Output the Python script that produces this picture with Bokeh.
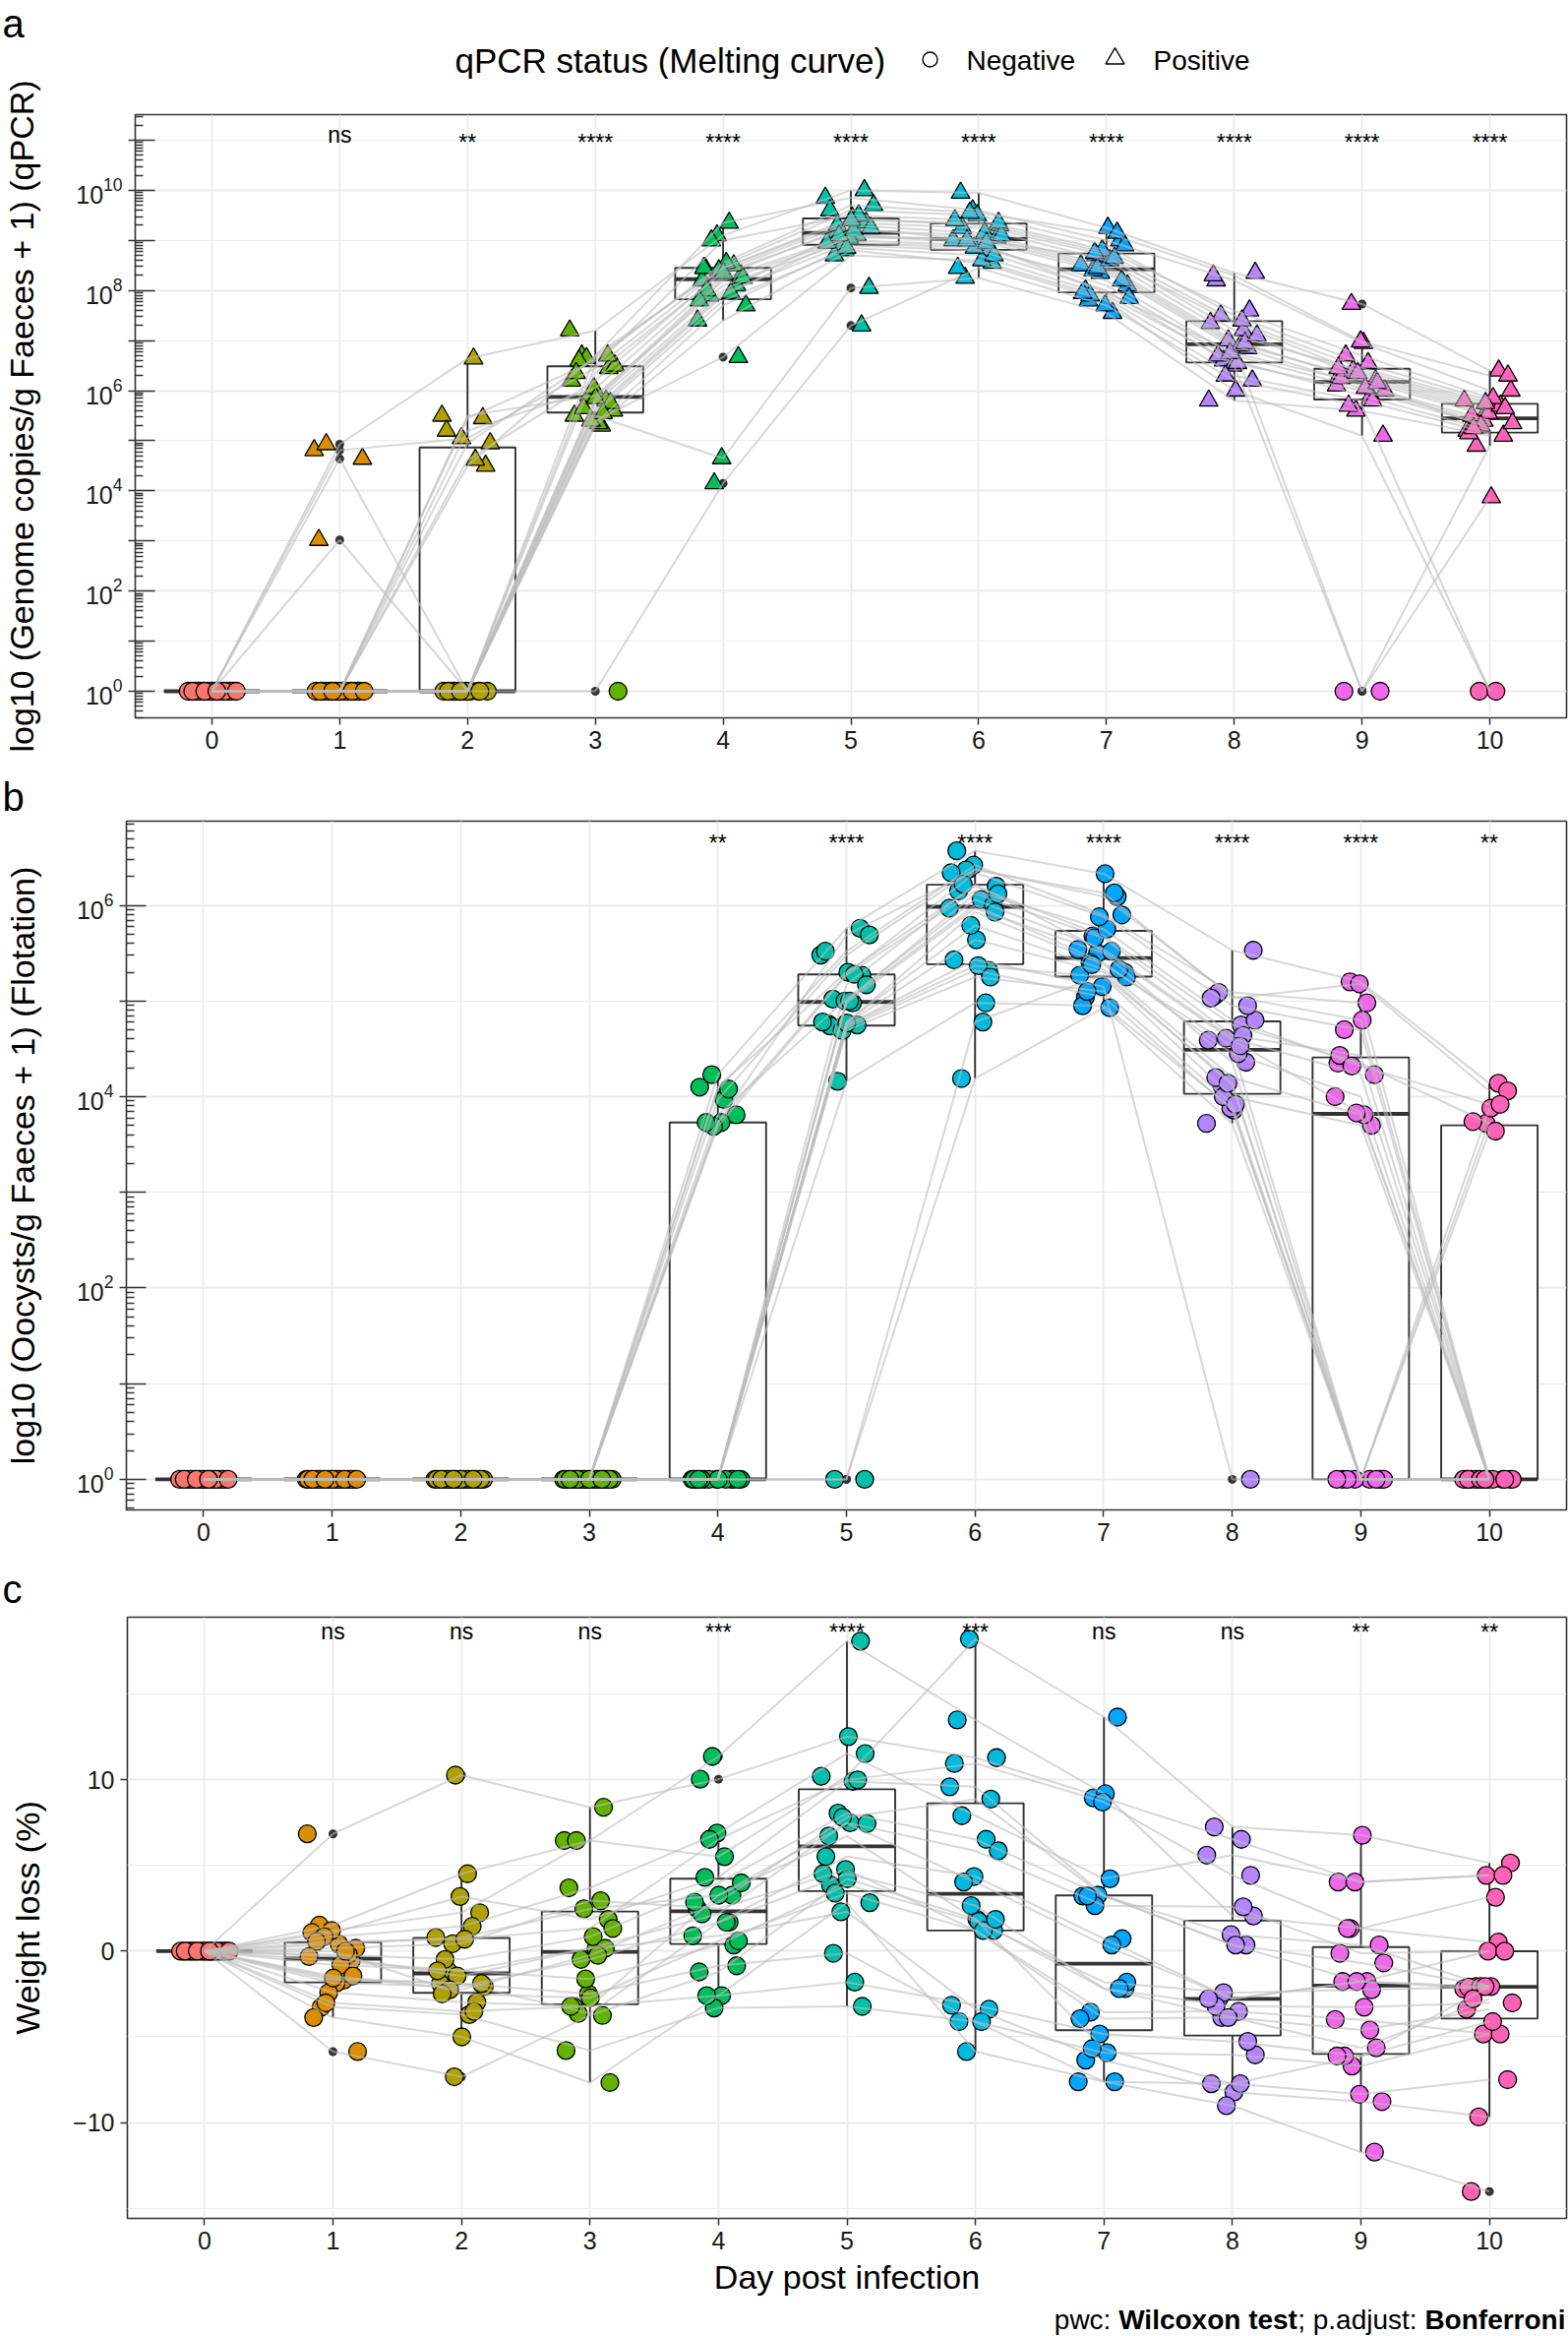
import numpy as np
from bokeh.plotting import figure
from bokeh.models import Range1d, FixedTicker, ColumnDataSource
from bokeh.layouts import column
from bokeh.core.properties import value
from bokeh.embed import file_html
from bokeh.resources import INLINE

FONT = "Liberation Sans"
DAYS = [0, 1, 2, 3, 4, 5, 6, 7, 8, 9, 10]
DAY_COLORS = ["#F8766D", "#DB8E00", "#AEA200", "#64B200", "#00BD5C", "#00C1A7",
              "#00BADE", "#00A6FF", "#B385FF", "#EF67EB", "#FF63B6"]

# ---------------- panel a: log10(genome copies / g faeces + 1), one entry per mouse ----------------
qpcr_d0 = [0, 0, 0, 0, 0, 0, 0, 0, 0, 0, 0, 0, 0, 0, 0, 0, 0, 0, 0, 0, 0, 0]
qpcr_d1 = [4.81, 0, 4.93, 0, 0, 3.02, 0, 0, 4.64, 0, 0, 0, 0, 0, 0, 0, 0, 0, 0, 0, 0, 0]
qpcr_d2 = [5.05, 5.5, 6.64, 0, 4.5, 0, 5.2, 0, 0, 4.95, 0, 0, 5.45, 0, 0, 4.62, 0, 0, 0, 0, 0, 0]
qpcr_d3 = [6.45, 5.9, 7.2, 5.3, 6.7, 5.6, 6.05, 5.5, 5.8, 6.65, 0, 5.35, 6.6, 5.75, 5.4, 6.2, 5.55, 5.65, 6.5, 5.85, 6.35, 6.7]
qpcr_d4 = [8.45, 8.1, 9.1, 7.4, 9.35, 7.9, 8.3, 4.65, 8.2, 8.5, 4.15, 7.7, 8.55, 8.0, 6.67, 8.4, 7.8, 7.95, 9.0, 8.25, 8.35, 8.45]
qpcr_d5 = [9.45, 9.0, 10.0, 8.8, 9.85, 9.1, 9.3, 8.05, 9.05, 9.6, 7.3, 8.9, 9.7, 9.2, 8.7, 9.35, 8.85, 8.95, 9.5, 9.1, 9.25, 9.4]
qpcr_d6 = [9.3, 8.9, 9.95, 8.55, 9.6, 9.0, 9.15, 8.25, 9.05, 9.5, 8.45, 8.8, 9.55, 9.1, 8.6, 9.25, 8.7, 8.85, 9.4, 8.95, 9.0, 9.35]
qpcr_d7 = [8.7, 8.1, 9.25, 7.8, 9.0, 8.35, 8.5, 7.55, 8.4, 8.9, 7.7, 8.0, 9.15, 8.45, 7.85, 8.6, 7.9, 8.2, 8.8, 7.95, 8.65, 8.75]
qpcr_d8 = [7.2, 6.6, 8.35, 6.0, 8.2, 6.85, 7.0, 5.8, 6.9, 7.5, 6.2, 6.5, 8.3, 6.95, 6.3, 7.1, 6.55, 6.7, 7.6, 6.75, 7.35, 7.4]
qpcr_d9 = [6.3, 5.9, 7.73, 5.1, 6.95, 0, 6.2, 5.6, 6.1, 6.55, 5.7, 0, 6.98, 6.25, 5.8, 6.4, 6.0, 6.05, 6.7, 6.15, 6.35, 6.45]
qpcr_d10 = [5.6, 5.2, 6.4, 0, 6.0, 3.87, 5.5, 5.1, 5.4, 5.8, 0, 4.9, 6.3, 5.55, 5.15, 5.7, 5.3, 5.35, 5.85, 5.25, 5.65, 5.75]

# ---------------- panel b: log10(oocysts / g faeces + 1) ----------------
oocyst_d0 = [0, 0, 0, 0, 0, 0, 0, 0, 0, 0, 0, 0, 0, 0, 0, 0, 0, 0, 0, 0, 0, 0]
oocyst_d1 = [0, 0, 0, 0, 0, 0, 0, 0, 0, 0, 0, 0, 0, 0, 0, 0, 0, 0, 0, 0, 0, 0]
oocyst_d2 = [0, 0, 0, 0, 0, 0, 0, 0, 0, 0, 0, 0, 0, 0, 0, 0, 0, 0, 0, 0, 0, 0]
oocyst_d3 = [0, 0, 0, 0, 0, 0, 0, 0, 0, 0, 0, 0, 0, 0, 0, 0, 0, 0, 0, 0, 0, 0]
oocyst_d4 = [4.1, 0, 4.23, 0, 3.97, 0, 3.81, 0, 0, 4.08, 0, 0, 3.73, 0, 0, 3.69, 0, 0, 3.73, 0, 0, 0]
oocyst_d5 = [5.3, 4.76, 5.76, 4.72, 5.48, 4.98, 5.02, 0, 5.0, 5.52, 4.75, 4.16, 5.69, 5.0, 4.74, 5.27, 4.69, 4.78, 5.28, 0, 5.17, 4.77]
oocyst_d6 = [6.2, 5.64, 6.57, 5.32, 6.38, 5.97, 6.06, 4.19, 6.0, 6.42, 5.43, 4.98, 6.37, 6.12, 5.37, 6.15, 5.25, 5.79, 6.34, 4.78, 6.22, 5.93]
oocyst_d7 = [5.68, 5.3, 6.33, 5.04, 6.09, 5.5, 5.54, 4.93, 5.4, 5.9, 5.15, 4.95, 6.13, 5.66, 5.25, 5.75, 5.1, 5.33, 5.88, 5.27, 5.52, 5.38]
oocyst_d8 = [4.75, 4.12, 5.53, 3.86, 5.05, 4.36, 4.61, 3.72, 4.45, 5.09, 0, 3.88, 5.03, 4.64, 4.0, 4.8, 3.92, 4.2, 4.95, 4.14, 4.59, 4.53]
oocyst_d9 = [4.35, 0, 5.2, 0, 4.8, 0, 4.23, 0, 4.0, 4.98, 0, 0, 5.18, 4.43, 3.7, 4.32, 0, 3.81, 4.7, 0, 3.83, 0]
oocyst_d10 = [3.72, 0, 4.14, 0, 0, 3.88, 0, 0, 0, 0, 3.64, 0, 4.06, 0, 0, 3.92, 0, 0, 0, 3.74, 0, 0]

# ---------------- panel c: weight loss (%) ----------------
weight_d0 = [0, 0, 0, 0, 0, 0, 0, 0, 0, 0, 0, 0, 0, 0, 0, 0, 0, 0, 0, 0, 0, 0]
weight_d1 = [6.85, 0.41, 1.52, -0.56, 1.21, 1.09, -1.69, 0.85, 0.17, -1.86, 0.56, -0.2, -2.42, -0.31, -0.8, -3.27, -1.45, -1.57, -3.87, 0.0, -3.02, -5.86]
weight_d2 = [10.28, 0.8, 4.52, -1.14, 2.25, 3.19, -1.89, 1.45, 0.44, -2.06, 0.7, -0.48, -2.98, -1.45, -1.14, -3.7, -2.25, -1.89, -5.0, -2.49, -3.51, -7.33]
weight_d3 = [8.4, 2.47, 6.46, 0.17, 6.46, 1.86, -2.49, 3.7, 2.95, -0.48, 1.33, 0.85, -3.22, 0.17, -1.62, -5.8, -0.24, -3.63, -7.67, -2.73, -3.22, -3.75]
weight_d4 = [10.04, 3.27, 11.37, 0.9, 5.52, 4.31, -0.85, 6.9, 2.49, 1.69, 6.53, 3.99, -2.59, 2.18, 0.36, -3.31, 2.86, 1.69, -2.59, 0.6, 3.27, -1.21]
weight_d5 = [12.53, 6.73, 18.1, 2.3, 10.21, 9.92, -0.12, 11.54, 4.77, 5.52, 10.0, 8.06, 2.83, 7.5, 3.87, -3.22, 7.82, 4.52, -1.81, 3.39, 7.45, 4.23]
weight_d6 = [11.3, 1.86, 13.5, -3.39, 18.22, 9.6, -4.11, 7.91, 1.21, 4.36, 10.96, 6.53, -5.86, 5.86, 1.74, -4.11, 8.88, 2.66, -3.15, 1.21, 4.04, 1.86]
weight_d7 = [8.95, -2.18, 9.19, -6.36, 13.67, 3.27, -7.62, 4.23, -3.56, 0.73, 8.71, 3.22, -7.62, 2.66, -1.81, -5.93, 3.22, -2.18, -4.84, -3.94, 0.36, -5.69]
weight_d8 = [6.53, -3.87, 2.06, -8.23, 7.26, 0.36, -9.02, 5.61, -3.51, -2.78, 4.43, 0.97, -7.74, 2.59, -2.42, -6.05, 0.36, -3.22, -5.27, -3.87, -2.78, -7.74]
weight_d9 = [4.04, -4.6, 1.33, -8.78, 6.77, -1.77, -11.73, 4.04, -3.99, -1.77, 1.33, 0.36, -8.35, -0.12, -2.25, -6.7, -0.68, -3.27, -6.12, -5.64, -1.77, -6.12]
weight_d10 = [4.43, -3.39, 0.53, -9.68, 5.15, -2.06, -14.03, 4.43, -4.84, -2.2, 3.15, -2.06, -7.5, 0.0, -2.1, -4.84, -2.06, -3.02, -4.11, -2.78, 0.0, -2.06]

QPCR_SIG = ["", "ns", "**", "****", "****", "****", "****", "****", "****", "****", "****"]
OOCYST_SIG = ["", "", "", "", "**", "****", "****", "****", "****", "****", "**"]
WEIGHT_SIG = ["", "ns", "ns", "ns", "***", "****", "***", "ns", "ns", "**", "**"]

LEGEND_TITLE = "qPCR status (Melting curve)"
LEGEND_LABELS = ["Negative", "Positive"]
YLAB_A = "log10 (Genome copies/g Faeces + 1) (qPCR)"
YLAB_B = "log10 (Oocysts/g Faeces + 1) (Flotation)"
YLAB_C = "Weight loss (%)"
XLAB = "Day post infection"
FOOTNOTE = [("pwc: ", "normal"), ("Wilcoxon test", "bold"), ("; p.adjust: ", "normal"), ("Bonferroni", "bold")]

QPCR = [qpcr_d0, qpcr_d1, qpcr_d2, qpcr_d3, qpcr_d4, qpcr_d5, qpcr_d6, qpcr_d7, qpcr_d8, qpcr_d9, qpcr_d10]
OOCYST = [oocyst_d0, oocyst_d1, oocyst_d2, oocyst_d3, oocyst_d4, oocyst_d5, oocyst_d6, oocyst_d7, oocyst_d8, oocyst_d9, oocyst_d10]
WEIGHT = [weight_d0, weight_d1, weight_d2, weight_d3, weight_d4, weight_d5, weight_d6, weight_d7, weight_d8, weight_d9, weight_d10]

# ---------------- layout constants (page pixels; Bokeh's page template has no body margin) ----------------
W = 1594
FRAME_RIGHT = 1592
GRID = "#EBEBEB"
INK = "#333333"
X_LO, X_HI = -0.6, 10.6

# approx. Arial/Liberation advance widths (per 1000 em) for the footnote pieces
REG_W = {'p': 556, 'w': 722, 'c': 500, ':': 278, ' ': 278, ';': 278, '.': 278, 'a': 556, 'd': 556,
         'j': 222, 'u': 556, 's': 500, 't': 278}
BOLD_W = {'W': 944, 'i': 278, 'l': 278, 'c': 556, 'o': 611, 'x': 556, 'n': 611, ' ': 278, 't': 333,
          'e': 556, 's': 556, 'B': 722, 'f': 333, 'r': 389}


def no_align(f):
    # every figure keeps its own borders (the reference panels are not frame-aligned)
    if "frame_align" in f.properties():
        f.frame_align = False
    return f


def box_stats(vals):
    a = np.asarray(vals, float)
    q1, med, q3 = np.percentile(a, [25, 50, 75])
    iqr = q3 - q1
    lo, hi = q1 - 1.5 * iqr, q3 + 1.5 * iqr
    inside = a[(a >= lo) & (a <= hi)]
    out = a[(a < lo) | (a > hi)]
    return q1, med, q3, inside.min(), inside.max(), out


def jitter(i, d):
    return 0.2 * (2.0 * (((i + 1) * 0.6180339887 + d * 0.3819660113) % 1.0) - 1.0)


def strip_fig(page_top, h):
    """A blank strip whose data coordinates equal page pixels (y grows downwards)."""
    f = figure(width=W, height=h, x_range=Range1d(0, W), y_range=Range1d(page_top + h, page_top),
               x_axis_location=None, y_axis_location=None, title=None,
               min_border_left=0, min_border_right=0, min_border_top=0, min_border_bottom=0,
               output_backend="svg", toolbar_location=None)
    f.grid.visible = False
    f.outline_line_color = None
    f.background_fill_color = "white"
    f.border_fill_color = "white"
    return no_align(f)


def strip_text(f, x, y, txt, size, align="left", style="normal"):
    f.text(x=[x], y=[y], text=[txt], text_font=value(FONT), text_font_size=value("%gpx" % size),
           text_align=align, text_baseline="middle", text_font_style=style, text_color="black")


def make_panel(top, frame_h, bottom, frame_left, lo, hi, log):
    rng = Range1d(10 ** lo, 10 ** hi) if log else Range1d(lo, hi)
    p = figure(width=W, height=top + frame_h + bottom, x_range=Range1d(X_LO, X_HI), y_range=rng,
               y_axis_type="log" if log else "linear", title=None,
               min_border_left=frame_left, min_border_right=W - FRAME_RIGHT,
               min_border_top=top, min_border_bottom=bottom,
               output_backend="svg", toolbar_location=None)
    no_align(p)
    p.background_fill_color = "white"
    p.border_fill_color = "white"
    p.outline_line_color = INK
    p.outline_line_width = 1.6
    p.xgrid.ticker = FixedTicker(ticks=DAYS)
    p.xgrid.grid_line_color = GRID
    p.xgrid.grid_line_width = 1.8
    p.ygrid.grid_line_color = GRID
    p.ygrid.grid_line_width = 1.8
    p.ygrid.minor_grid_line_color = GRID
    p.ygrid.minor_grid_line_width = 1.1
    xa, ya = p.xaxis[0], p.yaxis[0]
    xa.ticker = FixedTicker(ticks=DAYS)
    for ax in (xa, ya):
        ax.axis_line_color = None
        ax.major_tick_line_color = INK
        ax.major_tick_line_width = 1.5
        ax.major_tick_out = 7
        ax.major_tick_in = 0
        ax.minor_tick_line_color = None
        ax.major_label_standoff = 6
        ax.major_label_text_font = FONT
        ax.major_label_text_font_size = "25px"
        ax.major_label_text_color = "#1A1A1A"
        ax.axis_label_text_font = FONT
        ax.axis_label_text_font_size = "34px"
        ax.axis_label_text_font_style = "normal"
        ax.axis_label_text_color = "black"
    return p


def log_axis(p, label_decades, standoff, label):
    ya = p.yaxis[0]
    ya.ticker = FixedTicker(ticks=[10.0 ** k for k in range(0, 12)],
                            minor_ticks=[m * 10.0 ** k for k in range(-1, 12) for m in range(2, 10)])
    ya.major_tick_in = 20
    ya.major_tick_out = 7
    ya.minor_tick_line_color = INK
    ya.minor_tick_line_width = 1.3
    ya.minor_tick_in = 8
    ya.minor_tick_out = 0
    ya.major_label_overrides = {10.0 ** k: "" for k in range(0, 12) if k not in label_decades}
    ya.axis_label = label
    ya.axis_label_standoff = standoff
    p.ygrid.ticker = FixedTicker(ticks=[10.0 ** k for k in label_decades],
                                 minor_ticks=[10.0 ** k for k in range(0, 12) if k not in label_decades])


def draw_data(p, series, log, shapes=False):
    T = (lambda v: np.power(10.0, np.asarray(v, float))) if log else (lambda v: np.asarray(v, float))
    n = len(series[0])
    box = dict(l=[], r=[], t=[], b=[])
    med = dict(x0=[], x1=[], y=[])
    wh = dict(x=[], y0=[], y1=[])
    outl = dict(x=[], y=[])
    pts = dict(x=[], y=[], color=[], marker=[], size=[])
    for d, vals in zip(DAYS, series):
        q1, m, q3, wlo, whi, out = box_stats(vals)
        box["l"].append(d - 0.375); box["r"].append(d + 0.375)
        box["t"].append(float(T(q3))); box["b"].append(float(T(q1)))
        med["x0"].append(d - 0.375); med["x1"].append(d + 0.375); med["y"].append(float(T(m)))
        wh["x"] += [d, d]; wh["y0"] += [float(T(q3)), float(T(q1))]; wh["y1"] += [float(T(whi)), float(T(wlo))]
        for o in out:
            outl["x"].append(d); outl["y"].append(float(T(o)))
        for i, v in enumerate(vals):
            pts["x"].append(d + jitter(i, d))
            pts["y"].append(float(T(v)))
            pts["color"].append(DAY_COLORS[d])
            tri = shapes and v > 0
            pts["marker"].append("triangle" if tri else "circle")
            pts["size"].append(19 if tri else 18)
    p.quad(left="l", right="r", top="t", bottom="b", source=ColumnDataSource(box),
           fill_color="white", line_color=INK, line_width=1.9)
    p.segment(x0="x", y0="y0", x1="x", y1="y1", source=ColumnDataSource(wh), line_color=INK, line_width=1.9)
    p.segment(x0="x0", y0="y", x1="x1", y1="y", source=ColumnDataSource(med), line_color=INK, line_width=3.8)
    p.scatter(x="x", y="y", source=ColumnDataSource(outl), marker="circle", size=9,
              fill_color=INK, line_color=None)
    p.scatter(x="x", y="y", marker="marker", size="size", source=ColumnDataSource(pts),
              fill_color="color", line_color="black", line_width=1.3)
    xs = [list(DAYS) for _ in range(n)]
    ys = [[float(T(series[d][i])) for d in DAYS] for i in range(n)]
    p.multi_line(xs=xs, ys=ys, line_color="#BDBDBD", line_alpha=0.6, line_width=2)


def draw_sig(p, sig, y, star_offset=0):
    ns_x = [d for d, s in zip(DAYS, sig) if s == "ns"]
    st_x = [d for d, s in zip(DAYS, sig) if s.startswith("*")]
    st_t = [s for s in sig if s.startswith("*")]
    for xs, ts, off in ((ns_x, ["ns"] * len(ns_x), 0), (st_x, st_t, star_offset)):
        src = ColumnDataSource(dict(x=xs, y=[y] * len(xs), t=ts))
        p.text(x="x", y="y", text="t", source=src, text_font=value(FONT),
               text_font_size=value("23px"), text_align="center", text_baseline="middle",
               text_color="black", y_offset=off)


# ---------------- header of panel a: letter + shape legend ----------------
HA = strip_fig(0, 80)
strip_text(HA, 2, 23, "a", 40)
strip_text(HA, 462, 61, LEGEND_TITLE, 35)
HA.scatter(x=[945], y=[60], marker="circle", size=15, fill_color=None, line_color="black", line_width=1.4)
strip_text(HA, 982, 61, LEGEND_LABELS[0], 28)
HA.scatter(x=[1133], y=[59], marker="triangle", size=19, fill_color=None, line_color="black", line_width=1.4)
strip_text(HA, 1172, 61, LEGEND_LABELS[1], 28)

# ---------------- panel a ----------------
PA = make_panel(top=36, frame_h=613, bottom=57, frame_left=136, lo=-0.53, hi=11.51, log=True)
log_axis(PA, [0, 2, 4, 6, 8, 10], 33, YLAB_A)
draw_data(PA, QPCR, log=True, shapes=True)
draw_sig(PA, QPCR_SIG, 10 ** 11.1, star_offset=8)

# ---------------- panel b ----------------
HB = strip_fig(786, 46)
strip_text(HB, 2, 809.5, "b", 40)
PB = make_panel(top=2, frame_h=700, bottom=56, frame_left=125, lo=-0.32, hi=6.88, log=True)
log_axis(PB, [0, 2, 4, 6], 33, YLAB_B)
draw_data(PB, OOCYST, log=True)
draw_sig(PB, OOCYST_SIG, 10 ** 6.646)

# ---------------- panel c ----------------
HC = strip_fig(1590, 46)
strip_text(HC, 2, 1614, "c", 40)
PC = make_panel(top=7, frame_h=611, bottom=86, frame_left=129, lo=-15.6, hi=19.5, log=False)
ya = PC.yaxis[0]
ya.ticker = FixedTicker(ticks=[-10, 0, 10])
ya.major_label_overrides = {-10: "\u221210"}
ya.axis_label = YLAB_C
ya.axis_label_standoff = 24
PC.ygrid.ticker = FixedTicker(ticks=[-10, 0, 10], minor_ticks=[-15, -5, 5, 15])
xa = PC.xaxis[0]
xa.axis_label = XLAB
xa.axis_label_standoff = 6
draw_data(PC, WEIGHT, log=False)
draw_sig(PC, WEIGHT_SIG, 18.67, star_offset=1)

# ---------------- footnote (mixed regular / bold), right aligned ----------------
FT = strip_fig(2340, 34)
FN_SIZE = 28
widths = [sum((BOLD_W if st == "bold" else REG_W)[ch] for ch in s) / 1000 * FN_SIZE for s, st in FOOTNOTE]
cursor = 1591 - sum(widths)
for (s, st), w in zip(FOOTNOTE, widths):
    strip_text(FT, cursor, 2357, s, FN_SIZE, style=st)
    cursor += w

layout = column(HA, PA, HB, PB, HC, PC, FT)
open("out.html", "w").write(file_html(layout, INLINE))
